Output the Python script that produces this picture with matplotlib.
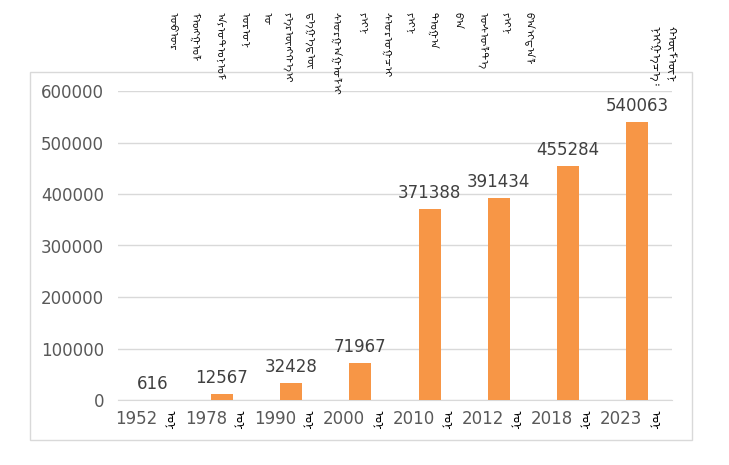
import matplotlib
matplotlib.use('Agg')
import matplotlib.pyplot as plt
from matplotlib.patches import Rectangle

# data
years = ['1952', '1978', '1990', '2000', '2010', '2012', '2018', '2023']
students = [616, 12567, 32428, 71967, 371388, 391434, 455284, 540063]
year_suffix = 'ᠣᠨ'
title_words = ['ᠥᠪᠥᠷ', 'ᠮᠣᠩᠭᠣᠯ', 'ᠠᠶᠤᠲᠣᠨᠣᠮ', 'ᠤᠷᠤᠨ', 'ᠤ', 'ᠶᠡᠷᠦᠩᠬᠡᠢ',
               'ᠳᠡᠭᠡᠳᠦ', 'ᠰᠤᠷᠭᠠᠭᠤᠯᠢ', 'ᠶᠢᠨ', 'ᠰᠤᠷᠤᠭᠴᠢ', 'ᠶᠢᠨ', 'ᠲᠣᠭᠠ',
               'ᠪᠠ', 'ᠥᠰᠥᠯᠲᠡ', 'ᠶᠢᠨ', 'ᠪᠠᠢᠳᠠᠯ']
unit_words = ['ᠨᠢᠭᠡᠴᠡ᠄', 'ᠬᠦᠮᠦᠨ']

mong = ['Noto Sans Mongolian', 'DejaVu Sans']

fig = plt.figure(figsize=(7.29, 4.65), dpi=100)
W, H = 729, 465

# outer chart frame
fig.patches.append(Rectangle((30 / W, 1 - 440 / H), 662 / W, 368 / H,
                             transform=fig.transFigure, fill=False,
                             edgecolor='#d9d9d9', linewidth=1))

ax = fig.add_axes([118 / W, 1 - 400 / H, 554 / W, 309 / H])
x = list(range(len(years)))
bars = ax.bar(x, students, width=0.32, color='#F79646', zorder=3)

ax.set_ylim(0, 600000)
ax.set_xlim(-0.5, len(years) - 0.5)
ax.set_yticks(range(0, 600001, 100000))
ax.yaxis.grid(True, color='#d9d9d9', linewidth=1, zorder=0)
for s in ['top', 'right', 'left']:
    ax.spines[s].set_visible(False)
ax.spines['bottom'].set_color('#d9d9d9')
ax.tick_params(axis='both', length=0, labelsize=12, labelcolor='#595959')
ax.tick_params(axis='y', pad=10)
ax.set_xticks(x)
ax.set_xticklabels([])

# category labels: year + vertical mongolian suffix
for i, y in zip(x, years):
    ax.annotate(y, (i, 0), xytext=(5, -10), textcoords='offset pixels',
                ha='right', va='top', fontsize=12, color='#595959',
                annotation_clip=False)
    ax.annotate(year_suffix, (i, 0), xytext=(17, -10), textcoords='offset pixels',
                ha='center', va='top', rotation=-90, fontsize=9,
                family=mong, color='black', annotation_clip=False)

for b, v in zip(bars, students):
    ax.annotate(f'{v}', (b.get_x() + b.get_width() / 2, v), xytext=(0, 5),
                textcoords='offset points', ha='center', va='bottom',
                fontsize=12, color='#404040')

# vertical mongolian title, one word per column
col_x = [171, 194, 218, 243, 266, 287, 310, 335, 361, 386, 408, 432, 457, 482, 504, 528]
for cx, w in zip(col_x, title_words):
    fig.text(cx / W, 1 - 12 / H, w, rotation=-90, ha='center', va='top',
             fontsize=7.5, family=mong, color='black')

for cx, w in zip([655, 670], unit_words):
    fig.text(cx / W, 1 - 26 / H, w, rotation=-90, ha='center', va='top',
             fontsize=8, family=mong, color='black')

fig.savefig('out.png', dpi=100)
